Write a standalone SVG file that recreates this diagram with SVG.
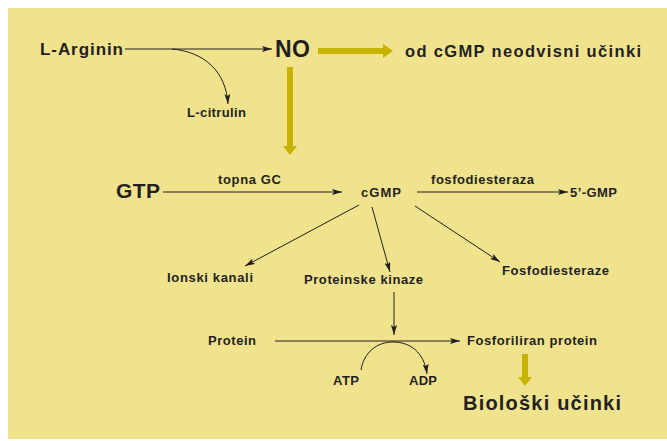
<svg xmlns="http://www.w3.org/2000/svg" width="667" height="441" viewBox="0 0 667 441">
<defs>
<style>
text{font-family:"Liberation Sans",Arial,sans-serif;font-weight:bold;fill:#231f20}
.s12{font-size:13px}
.s15{font-size:17px}
.s16{font-size:16.5px}
.s20{font-size:20px}
.ln{stroke:#231f20;stroke-width:1;fill:none;marker-end:url(#ah)}
.ol{fill:#c6b400}
</style>
<marker id="ah" viewBox="0 0 10 6" refX="10" refY="3" markerWidth="10" markerHeight="6" markerUnits="userSpaceOnUse" orient="auto">
<path d="M0,0 L10,3 L0,6 L2,3 Z" fill="#231f20"/>
</marker>
</defs>
<rect x="0" y="0" width="667" height="441" fill="#ffffff"/>
<rect x="8" y="8" width="659" height="431" fill="#f1e38d"/>
<g id="connectors">
<line class="ln" x1="125" y1="49" x2="272" y2="49"/>
<path class="ln" d="M172,49 C205,52 226,72 228,104"/>
<line class="ln" x1="163" y1="192" x2="342" y2="192"/>
<line class="ln" x1="417" y1="192" x2="568" y2="192"/>
<line class="ln" x1="359" y1="205" x2="245" y2="266"/>
<line class="ln" x1="372" y1="207" x2="390" y2="272"/>
<line class="ln" x1="415" y1="206" x2="500" y2="262"/>
<line class="ln" x1="394" y1="292" x2="394" y2="335"/>
<line class="ln" x1="275" y1="341" x2="460" y2="341"/>
<path class="ln" d="M361,370 C364,352 377,342 393,342 C410,342 424,352 427,374"/>
<path class="ol" d="M318,48 L383,48 L383,44 L393,51 L383,58 L383,54 L318,54 Z"/>
<path class="ol" d="M287,67 L293,67 L293,146 L297,146 L290,155 L283,146 L287,146 Z"/>
<path class="ol" d="M522,354 L528,354 L528,377 L532,377 L525,386 L518,377 L522,377 Z"/>
</g>
<g id="n-larginin"><text class="s15" x="40" y="55" textLength="83" lengthAdjust="spacing">L-Arginin</text></g>
<g id="n-no"><text class="s20" x="275" y="57" style="font-size:23px" textLength="35" lengthAdjust="spacing">NO</text></g>
<g id="n-od"><text class="s16" x="405" y="57" textLength="236" lengthAdjust="spacing">od cGMP neodvisni učinki</text></g>
<g id="n-lcitrulin"><text class="s12" x="187" y="117" textLength="59" lengthAdjust="spacing">L-citrulin</text></g>
<g id="n-gtp"><text class="s20" x="116" y="198" style="font-size:21px" textLength="44" lengthAdjust="spacing">GTP</text></g>
<g id="n-topna"><text class="s12" x="218" y="184" textLength="63" lengthAdjust="spacing">topna GC</text></g>
<g id="n-cgmp"><text class="s12" x="361" y="197" textLength="40" lengthAdjust="spacing">cGMP</text></g>
<g id="n-fosfodiesteraza"><text class="s12" x="431" y="184" textLength="103" lengthAdjust="spacing">fosfodiesteraza</text></g>
<g id="n-5gmp"><text class="s12" x="570" y="197" textLength="47" lengthAdjust="spacing">5’-GMP</text></g>
<g id="n-ionski"><text class="s12" x="167" y="282" textLength="86" lengthAdjust="spacing">Ionski kanali</text></g>
<g id="n-proteinske"><text class="s12" x="304" y="284" textLength="119" lengthAdjust="spacing">Proteinske kinaze</text></g>
<g id="n-fosfodiesteraze"><text class="s12" x="502" y="275" textLength="107" lengthAdjust="spacing">Fosfodiesteraze</text></g>
<g id="n-protein"><text class="s12" x="208" y="345" textLength="48" lengthAdjust="spacing">Protein</text></g>
<g id="n-fosforiliran"><text class="s12" x="467" y="345" textLength="130" lengthAdjust="spacing">Fosforiliran protein</text></g>
<g id="n-atp"><text class="s12" x="333" y="385" textLength="26" lengthAdjust="spacing">ATP</text></g>
<g id="n-adp"><text class="s12" x="409" y="385" textLength="28" lengthAdjust="spacing">ADP</text></g>
<g id="n-bioloski"><text class="s20" x="463" y="410" textLength="158" lengthAdjust="spacing">Biološki učinki</text></g>
</svg>
